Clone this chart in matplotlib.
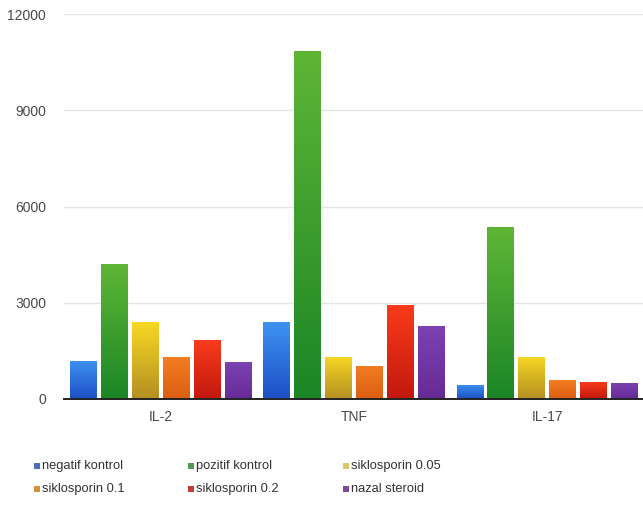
import numpy as np
import matplotlib
matplotlib.use("Agg")
import matplotlib.pyplot as plt
from matplotlib.colors import LinearSegmentedColormap
from matplotlib.patches import Rectangle

plt.rcParams['font.family'] = ['Liberation Sans', 'DejaVu Sans']

categories = ["IL-2", "TNF", "IL-17"]
series_names = ["negatif kontrol", "pozitif kontrol", "siklosporin 0.05",
                "siklosporin 0.1", "siklosporin 0.2", "nazal steroid"]
negatif_kontrol = [1200, 2400, 440]
pozitif_kontrol = [4200, 10850, 5350]
siklosporin_005 = [2400, 1320, 1320]
siklosporin_01 = [1300, 1030, 590]
siklosporin_02 = [1850, 2930, 530]
nazal_steroid = [1150, 2290, 510]
series_values = [negatif_kontrol, pozitif_kontrol, siklosporin_005,
                 siklosporin_01, siklosporin_02, nazal_steroid]
y_ticks = [0, 3000, 6000, 9000, 12000]

# gradient (top colour, bottom colour) for each series' bars
bar_gradients = [("#3d92f2", "#1c4fc4"),
                 ("#5fb636", "#1b8526"),
                 ("#f7d823", "#b38f22"),
                 ("#f27d22", "#dc5e12"),
                 ("#fa3c1a", "#c2180f"),
                 ("#7b42b2", "#672b96")]
legend_colors = ["#4b6fb9", "#4f9b52", "#d9c865", "#d2913c", "#c83a3a", "#7b4b9b"]

fig = plt.figure(figsize=(6.43, 5.18), dpi=100)
ax = fig.add_axes([64 / 643, 1 - 399 / 518, 580 / 643, 385 / 518])

n = len(series_names)
pitch = 0.16
width = 0.139
x = np.arange(len(categories))

for i, (vals, (ctop, cbot)) in enumerate(zip(series_values, bar_gradients)):
    offs = (i - (n - 1) / 2) * pitch
    bars = ax.bar(x + offs, vals, width, color=ctop, edgecolor="none", zorder=2)
    cmap = LinearSegmentedColormap.from_list(f"g{i}", [cbot, ctop])
    grad = np.linspace(0, 1, 256).reshape(-1, 1)
    for b in bars:
        x0, y0 = b.get_x(), b.get_y()
        w, h = b.get_width(), b.get_height()
        im = ax.imshow(grad, cmap=cmap, origin="lower", aspect="auto",
                       extent=[x0, x0 + w, y0, y0 + h], zorder=3,
                       interpolation="bilinear")
        im.set_clip_path(b)

ax.set_xlim(-0.5, 2.5)
ax.set_ylim(0, 12000)
ax.set_yticks(y_ticks)
ax.set_yticklabels([str(t) for t in y_ticks])
ax.set_xticks(x)
ax.set_xticklabels(categories)
ax.tick_params(axis="both", length=0, labelsize=10, colors="#4a4a4a")
ax.tick_params(axis="y", pad=13)
ax.tick_params(axis="x", pad=8)
ax.grid(axis="y", color="#e4e4e4", linewidth=1.0, zorder=0)
ax.set_axisbelow(True)
for s in ["top", "right", "left"]:
    ax.spines[s].set_visible(False)
ax.spines["bottom"].set_color("#222222")
ax.spines["bottom"].set_linewidth(1.4)
ax.spines["bottom"].set_zorder(5)

# legend: 2 rows x 3 columns, row-major order
col_x = [34, 188, 343]
row_y = [466, 489]
for k, (name, col) in enumerate(zip(series_names, legend_colors)):
    r, c = divmod(k, 3)
    px, py = col_x[c], row_y[r]
    fig.add_artist(Rectangle(((px) / 643, 1 - (py + 3) / 518), 6 / 643, 6 / 518,
                             transform=fig.transFigure, facecolor=col,
                             edgecolor="none"))
    fig.text((px + 8) / 643, 1 - py / 518, name, fontsize=9.3, color="#333333",
             va="center", ha="left")

fig.savefig("out.png", dpi=100)
